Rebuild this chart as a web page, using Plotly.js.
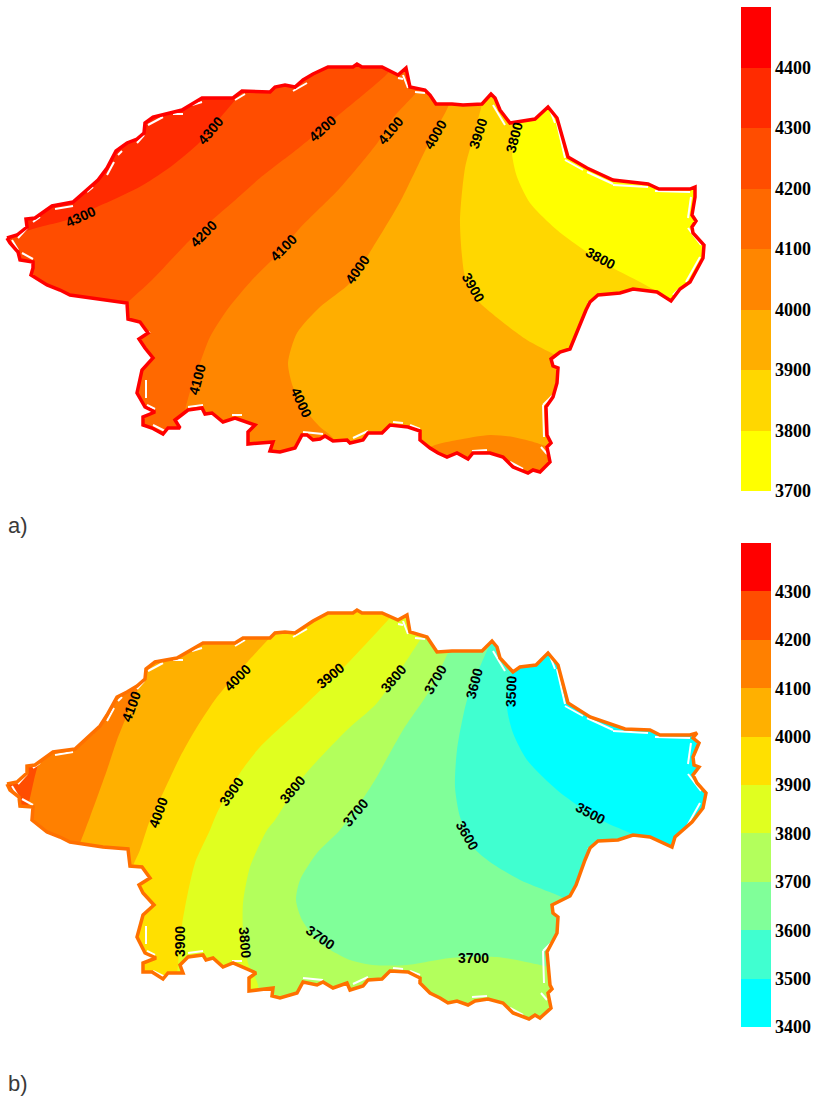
<!DOCTYPE html>
<html><head><meta charset="utf-8">
<script src="https://cdn.plot.ly/plotly-3.0.1.min.js"></script>
<style>html,body{margin:0;padding:0;background:#fff}#c{width:817px;height:1098px}</style>
</head><body><div id="c"></div>
<script>
// ---- Map a): outline and isolines (page pixels)
const outlineA=[[7,238],[17,235],[27,227],[26,219],[35,218],[52,206],[73,202],[98,180],[107,168],[116,151],[127,143],[137,139],[144,133],[145,123],[153,117],[173,112],[182,110],[202,98],[233,98],[242,91],[270,92],[275,87],[285,85],[295,87],[303,80],[313,74],[328,67],[353,67],[357,64],[362,67],[382,67],[398,75],[406,68],[410,87],[425,90],[430,95],[436,104],[452,104],[463,105],[482,104],[491,94],[495,98],[500,110],[510,123],[535,119],[548,107],[557,118],[568,157],[587,168],[613,180],[648,184],[659,189],[690,189],[695,187],[695,197],[692,215],[696,221],[692,227],[693,233],[704,245],[703,258],[690,282],[680,289],[671,301],[657,292],[633,289],[620,293],[598,295],[590,302],[586,310],[576,335],[570,349],[560,352],[551,359],[553,366],[558,368],[557,383],[553,397],[546,407],[547,435],[551,443],[547,447],[550,462],[540,472],[533,470],[528,473],[513,467],[503,457],[490,453],[473,453],[468,459],[457,453],[447,457],[438,453],[430,448],[420,440],[420,431],[408,427],[390,425],[382,433],[368,433],[363,440],[350,443],[347,440],[333,441],[325,436],[320,439],[313,440],[307,435],[302,435],[295,448],[280,452],[270,451],[273,442],[248,444],[248,432],[255,425],[235,418],[223,422],[212,413],[205,414],[202,408],[188,410],[175,420],[180,428],[168,428],[163,434],[152,428],[143,425],[143,417],[155,412],[145,407],[137,393],[142,370],[153,358],[145,348],[139,339],[148,333],[140,322],[128,319],[127,303],[103,300],[90,298],[70,295],[60,290],[47,285],[31,275],[33,268],[33,262],[20,260],[18,252],[10,243],[7,238]];
const isoA4300=[[245,85],[235,100],[220,118],[200,142],[173,165],[143,185],[117,198],[90,210],[67,220],[40,227],[20,233],[0,240]];
const isoA4200=[[395,62],[388,73],[335,118],[300,147],[260,178],[233,202],[193,237],[152,280],[127,303],[105,325]];
const isoA4100=[[425,82],[417,92],[393,118],[378,142],[340,188],[300,228],[280,252],[252,280],[227,310],[210,337],[200,363],[192,385],[185,410],[178,440]];
const isoA4000=[[453,92],[448,107],[433,135],[423,155],[400,202],[370,252],[350,283],[320,307],[297,333],[288,363],[293,387],[303,407],[320,427],[330,435],[345,455]];
const isoA4000South=[[425,450],[435,445],[457,440],[490,435],[513,437],[537,443],[548,447],[565,452]];
const isoA3900=[[484,92],[482,104],[473,138],[465,168],[460,222],[464,272],[470,290],[480,303],[500,320],[527,340],[555,355],[572,365]];
const isoA3800=[[522,100],[515,130],[512,153],[517,177],[530,203],[557,230],[587,252],[613,268],[640,282],[672,300],[685,308]];
const labelsA=[["4300",210,131,-50],["4300",80,217,-25],["4200",322,129,-42],["4100",390,131,-50],["4000",435,135,-60],["3900",478,134,-72],["3800",514,138,-75],["4200",203,234,-45],["4100",283,248,-45],["4000",357,270,-55],["3800",600,258,28],["3900",473,287,60],["4100",197,380,-75],["4000",301,402,65]];
const colorsA=["#FFFF00","#FFD700","#FFAE00","#FF8600","#FF6900","#FF4D00","#FF2B00","#FF0000"];
const basesA=[3700,3800,3900,4000,4100,4200,4300,4400];
const ticksA=[3700,3800,3900,4000,4100,4200,4300,4400];
// ---- Map b)
const outlineB=[[7,784],[17,782],[27,773],[27,766],[35,765],[53,752],[75,749],[100,726],[107,715],[117,697],[127,692],[137,686],[145,679],[146,669],[155,662],[177,658],[203,643],[235,643],[243,638],[270,638],[275,633],[285,632],[295,633],[313,621],[328,613],[353,613],[357,610],[362,613],[382,613],[398,620],[407,615],[410,632],[427,637],[437,652],[452,651],[463,651],[482,651],[492,641],[497,647],[500,658],[513,672],[520,667],[536,665],[548,653],[558,665],[568,703],[590,717],[625,729],[650,730],[660,735],[690,735],[697,733],[693,738],[699,743],[693,757],[694,765],[699,767],[693,775],[697,783],[706,793],[703,808],[692,822],[675,837],[672,847],[650,837],[633,835],[618,840],[598,841],[590,848],[585,860],[576,885],[570,896],[557,902],[552,905],[553,913],[558,917],[557,933],[547,952],[550,985],[552,989],[548,993],[551,1008],[540,1018],[535,1015],[529,1019],[513,1013],[503,1003],[488,999],[475,1001],[468,1005],[457,1001],[448,1003],[440,998],[430,993],[420,983],[420,978],[408,972],[390,971],[382,979],[368,980],[363,986],[350,990],[347,983],[333,988],[323,982],[317,985],[303,982],[297,993],[280,998],[272,996],[273,988],[249,991],[249,978],[256,973],[233,963],[223,967],[213,958],[206,960],[203,955],[188,957],[180,965],[183,973],[168,973],[163,979],[152,972],[143,972],[143,963],[156,958],[145,953],[137,937],[143,915],[154,905],[143,893],[139,885],[150,878],[142,867],[130,866],[128,849],[103,847],[90,845],[70,842],[60,837],[47,832],[32,820],[33,807],[20,806],[19,797],[10,790],[7,784]];
const isoB4200=[[40,755],[37,768],[34,780],[30,798],[26,815]];
const isoB4100=[[148,670],[143,680],[133,700],[125,720],[117,740],[107,770],[90,817],[78,848],[70,865]];
const isoB4000=[[285,622],[263,645],[243,667],[217,697],[197,727],[180,757],[163,793],[150,820],[140,850],[130,875]];
const isoB3900=[[395,612],[388,620],[347,664],[303,707],[260,747],[240,773],[217,813],[210,830],[195,863],[187,897],[182,925],[178,965],[176,985]];
const isoB3800=[[430,625],[420,640],[377,703],[347,730],[303,777],[275,820],[267,830],[250,867],[243,903],[243,930],[248,963],[258,985]];
const isoB3700=[[455,640],[448,653],[430,690],[403,730],[375,780],[360,803],[340,830],[317,853],[300,880],[296,900],[302,920],[320,943],[350,960],[373,965],[407,965],[450,958],[497,957],[540,965],[565,972]];
const isoB3600=[[492,640],[485,655],[467,700],[457,750],[455,787],[460,817],[473,847],[490,862],[520,880],[557,895],[578,905]];
const isoB3500=[[515,655],[512,672],[507,707],[513,733],[527,760],[557,790],[580,807],[607,823],[630,833],[650,845]];
const labelsB=[["4100",131,707,-70],["4000",237,678,-45],["3900",330,676,-40],["3800",393,679,-50],["3700",435,680,-60],["3600",474,684,-75],["3500",511,692,-88],["4000",158,813,-70],["3900",231,792,-55],["3800",292,790,-50],["3700",355,813,-50],["3500",590,813,28],["3600",467,835,60],["3900",180,942,-90],["3800",245,942,85],["3700",320,937,35],["3700",473,958,0]];
const colorsB=["#00FFFF","#40FFD0","#80FF99","#B3FF5C","#E0FF20","#FFE000","#FFB000","#FF8000","#FF4D00","#FF0000"];
const basesB=[3400,3500,3600,3700,3800,3900,4000,4100,4200,4300];
const ticksB=[3400,3500,3600,3700,3800,3900,4000,4100,4200,4300];
// White gaps left between the colour fill and the outline, read on map a); map b) sits gapShiftB lower
const gaps=[[[18,238],[27,228]],[[33,222],[40,217]],[[55,209],[73,206]],[[87,192],[93,187]],[[107,175],[114,162]],[[118,155],[122,151]],[[137,143],[144,135]],[[148,125],[163,117]],[[173,114],[183,114]],[[192,105],[202,102]],[[235,100],[245,94]],[[12,240],[18,250]],[[22,253],[33,259]],[[293,91],[307,83]],[[398,78],[403,79]],[[403,75],[408,88]],[[415,92],[425,93]],[[493,105],[505,125]],[[550,110],[555,123]],[[557,123],[565,158]],[[565,160],[583,170]],[[587,172],[613,184]],[[613,185],[648,187]],[[655,191],[690,192]],[[691,197],[688,218]],[[688,228],[701,245]],[[700,257],[686,282]],[[680,288],[673,295]],[[588,303],[598,297]],[[553,395],[543,405]],[[543,405],[544,437]],[[541,447],[547,454]],[[510,462],[523,469]],[[472,451],[487,450]],[[393,422],[403,423]],[[410,425],[420,429]],[[353,438],[368,431]],[[232,415],[242,415]],[[188,407],[203,405]],[[147,405],[155,409]],[[146,380],[146,398]],[[153,425],[165,431]],[[145,335],[150,332]],[[303,432],[323,434]]];
const gapShiftB=546;

const W=817,H=1098;
const traces=[];
function poly(pts,color,name,smooth){
  traces.push({x:pts.map(p=>p[0]),y:pts.map(p=>p[1]),mode:'lines',fill:'toself',fillcolor:color,line:smooth?{width:0,color:color,shape:'spline',smoothing:0.7}:{width:0,color:color},name:name,hoverinfo:'name',showlegend:false,xaxis:'x',yaxis:'y'});
}
function east(iso,top,bottomY){
  const a=iso[0],b=iso[iso.length-1];
  return iso.concat([[b[0],bottomY+1],[728,bottomY+1],[728,top],[a[0],top]]);
}
function map(frame,base,layers,outline,lineColor,name,shift,maskY){
  poly([[frame[0],frame[1]],[frame[2],frame[1]],[frame[2],frame[3]],[frame[0],frame[3]]],base,name+' base');
  layers.forEach(l=>poly(l[0],l[1],name+' '+l[2],true));
  const r=[[-50,maskY[0]],[W+50,maskY[0]],[W+50,maskY[1]],[-50,maskY[1]],[-50,maskY[0]]];
  poly(r.concat(outline.slice().reverse()).concat([r[0]]),'#FFFFFF',name+' mask');
  const gx=[],gy=[];
  gaps.forEach(g=>{gx.push(g[0][0],g[1][0],null);gy.push(g[0][1]+shift,g[1][1]+shift,null);});
  traces.push({x:gx,y:gy,mode:'lines',line:{color:'#FFFFFF',width:2},hoverinfo:'skip',showlegend:false,xaxis:'x',yaxis:'y',name:name+' gaps'});
  traces.push({x:outline.map(p=>p[0]),y:outline.map(p=>p[1]),mode:'lines',line:{color:lineColor,width:3.5},name:name+' outline',hoverinfo:'name',showlegend:false,xaxis:'x',yaxis:'y'});
}
map([0,40,728,490],colorsA[6],[
 [east(isoA4300,40,490),colorsA[5],'4300'],
 [east(isoA4200,40,490),colorsA[4],'4200'],
 [east(isoA4100,40,490),colorsA[3],'4100'],
 [east(isoA4000,40,490),colorsA[2],'4000'],
 [isoA4000South.concat([[565,490],[425,490]]),colorsA[3],'4000 south'],
 [east(isoA3900,40,isoA3900[isoA3900.length-1][1]),colorsA[1],'3900'],
 [east(isoA3800,40,isoA3800[isoA3800.length-1][1]),colorsA[0],'3800']
],outlineA,'#FF0000','a',0,[-300,543]);
map([0,590,728,1040],colorsB[8],[
 [east(isoB4200,590,1040),colorsB[7],'4200'],
 [east(isoB4100,590,1040),colorsB[6],'4100'],
 [east(isoB4000,590,1040),colorsB[5],'4000'],
 [east(isoB3900,590,1040),colorsB[4],'3900'],
 [east(isoB3800,590,1040),colorsB[3],'3800'],
 [east(isoB3700,590,isoB3700[isoB3700.length-1][1]),colorsB[2],'3700'],
 [east(isoB3600,590,isoB3600[isoB3600.length-1][1]),colorsB[1],'3600'],
 [east(isoB3500,590,isoB3500[isoB3500.length-1][1]),colorsB[0],'3500']
],outlineB,'#FF7000','b',gapShiftB,[543,1400]);
traces.push({type:'bar',x:basesA.map(()=>0.5),base:basesA,y:basesA.map(()=>100),width:1,marker:{color:colorsA,line:{width:0}},xaxis:'x2',yaxis:'y2',showlegend:false,hoverinfo:'none'});
traces.push({type:'bar',x:basesB.map(()=>0.5),base:basesB,y:basesB.map(()=>100),width:1,marker:{color:colorsB,line:{width:0}},xaxis:'x3',yaxis:'y3',showlegend:false,hoverinfo:'none'});

const ann=[];
function labels(list){list.forEach(l=>ann.push({text:l[0],x:l[1],y:l[2],textangle:l[3],xref:'x',yref:'y',showarrow:false,font:{family:'"Liberation Sans",Arial,sans-serif',size:14,weight:700,color:'#000'}}));}
labels(labelsA);labels(labelsB);
ann.push({text:'a)',xref:'x',yref:'y',x:6,y:525,xanchor:'left',showarrow:false,font:{family:'"Liberation Sans",Arial,sans-serif',size:22,color:'#3A3A3A'}});
ann.push({text:'b)',xref:'x',yref:'y',x:6,y:1083,xanchor:'left',showarrow:false,font:{family:'"Liberation Sans",Arial,sans-serif',size:22,color:'#3A3A3A'}});

const hidden={visible:false,fixedrange:true};
const tf={family:'"Liberation Serif","Times New Roman",serif',size:18,color:'#000',weight:700};
const cbAxis={side:'right',ticks:'',ticklen:0,ticklabelstandoff:3,showgrid:false,zeroline:false,showline:false,tickfont:tf,fixedrange:true};
const layout={width:W,height:H,margin:{l:0,r:0,t:0,b:0},paper_bgcolor:'#fff',plot_bgcolor:'rgba(0,0,0,0)',showlegend:false,barmode:'overlay',bargap:0,
 xaxis:Object.assign({range:[0,W],domain:[0,1]},hidden),
 yaxis:Object.assign({range:[H,0],domain:[0,1]},hidden),
 xaxis2:Object.assign({range:[0,1],domain:[741/W,771/W],anchor:'y2'},hidden),
 yaxis2:Object.assign({range:[3700,4500],domain:[1-491/H,1-7/H],anchor:'x2',tickvals:ticksA},cbAxis),
 xaxis3:Object.assign({range:[0,1],domain:[741/W,771/W],anchor:'y3'},hidden),
 yaxis3:Object.assign({range:[3400,4400],domain:[1-1027/H,1-543/H],anchor:'x3',tickvals:ticksB},cbAxis),
 annotations:ann};
Plotly.newPlot('c',traces,layout,{displayModeBar:false,staticPlot:true});
</script></body></html>
